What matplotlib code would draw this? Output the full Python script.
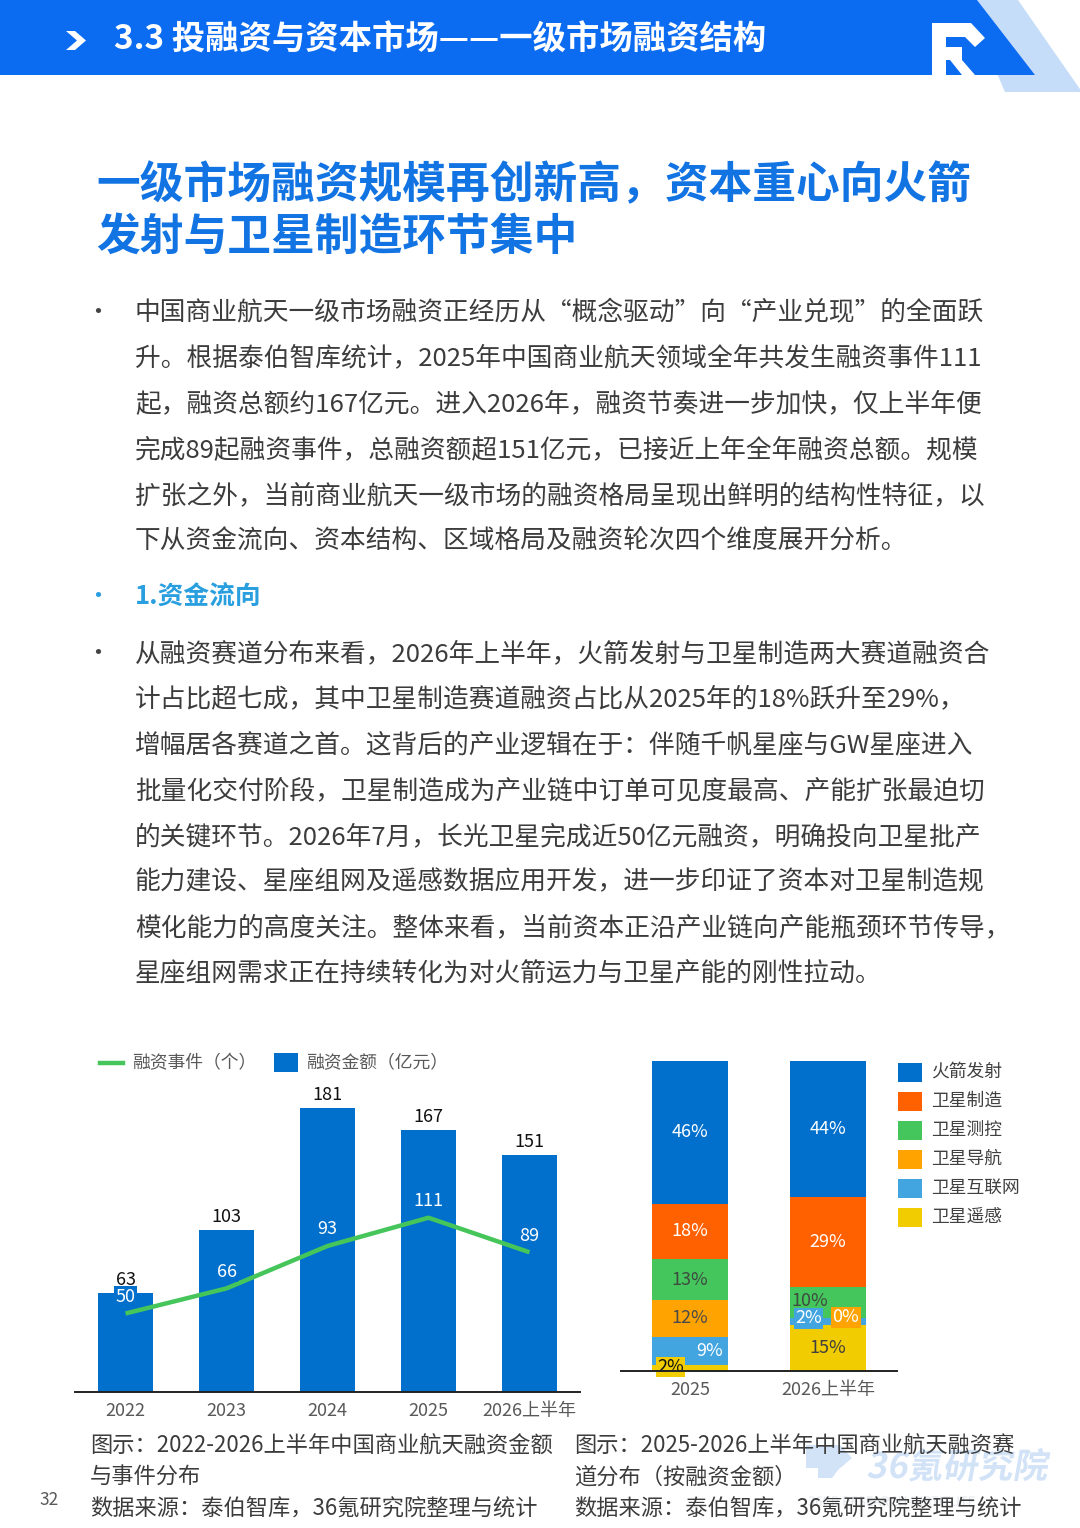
import matplotlib
matplotlib.use("Agg")
import matplotlib.pyplot as plt
from matplotlib.patches import Polygon, Rectangle, PathPatch
from matplotlib.textpath import TextPath
from matplotlib.font_manager import FontProperties
from matplotlib.transforms import Affine2D
import numpy as np

plt.rcParams['font.family'] = ['Noto Sans CJK SC', 'DejaVu Sans']

# ---------------- data ----------------
years = ['2022', '2023', '2024', '2025', '2026上半年']
amounts = [63, 103, 181, 167, 151]          # 融资金额（亿元）
events = [50, 66, 93, 111, 89]              # 融资事件（个）

tracks = ['火箭发射', '卫星制造', '卫星测控', '卫星导航', '卫星互联网', '卫星遥感']
periods = ['2025', '2026上半年']
share_2025 = [46, 18, 13, 12, 9, 2]
share_2026 = [44, 29, 10, 0, 2, 15]

header_title = '3.3 投融资与资本市场——一级市场融资结构'
main_title = ['一级市场融资规模再创新高，资本重心向火箭', '发射与卫星制造环节集中']
para1 = ['中国商业航天一级市场融资正经历从“概念驱动”向“产业兑现”的全面跃',
         '升。根据泰伯智库统计，2025年中国商业航天领域全年共发生融资事件111',
         '起，融资总额约167亿元。进入2026年，融资节奏进一步加快，仅上半年便',
         '完成89起融资事件，总融资额超151亿元，已接近上年全年融资总额。规模',
         '扩张之外，当前商业航天一级市场的融资格局呈现出鲜明的结构性特征，以',
         '下从资金流向、资本结构、区域格局及融资轮次四个维度展开分析。']
sub1 = '1.资金流向'
para2 = ['从融资赛道分布来看，2026年上半年，火箭发射与卫星制造两大赛道融资合',
         '计占比超七成，其中卫星制造赛道融资占比从2025年的18%跃升至29%，',
         '增幅居各赛道之首。这背后的产业逻辑在于：伴随千帆星座与GW星座进入',
         '批量化交付阶段，卫星制造成为产业链中订单可见度最高、产能扩张最迫切',
         '的关键环节。2026年7月，长光卫星完成近50亿元融资，明确投向卫星批产',
         '能力建设、星座组网及遥感数据应用开发，进一步印证了资本对卫星制造规',
         '模化能力的高度关注。整体来看，当前资本正沿产业链向产能瓶颈环节传导，',
         '星座组网需求正在持续转化为对火箭运力与卫星产能的刚性拉动。']
cap_left = ['图示：2022-2026上半年中国商业航天融资金额', '与事件分布', '数据来源：泰伯智库，36氪研究院整理与统计']
cap_right = ['图示：2025-2026上半年中国商业航天融资赛', '道分布（按融资金额）', '数据来源：泰伯智库，36氪研究院整理与统计']
legend_left = ['融资事件（个）', '融资金额（亿元）']
page_no = '32'
wm_main = '36氪研究院'
wm_sub = '36KR RESEARCH INSTITUTE'

# ---------------- styles ----------------
W, H = 1080, 1528
BLUE_HDR = '#0B6CF2'
LIGHT_HDR = '#C6DDFA'
TITLE_BLUE = '#1273E3'
TEXT = '#3C3C3C'
GRAY = '#595959'
BAR_BLUE = '#0070CC'
LINE_GREEN = '#45C55A'
track_colors = ['#0070CC', '#FF6000', '#44C65C', '#FFA300', '#42A5DF', '#F0CC00']
label_colors = ['white', 'white', '#3F4A3F', '#4A4A4A', 'white', '#404040']

fig = plt.figure(figsize=(W / 100, H / 100), dpi=100)
bg = fig.add_axes([0, 0, 1, 1])
bg.set_xlim(0, W)
bg.set_ylim(H, 0)
bg.axis('off')

# ---------------- header ----------------
bg.add_patch(Polygon([(965, 0), (1018, 0), (1082, 92), (1005, 92)], closed=True, fc=LIGHT_HDR, ec='none'))
bg.add_patch(Polygon([(0, 0), (977, 0), (1035, 75), (0, 75)], closed=True, fc=BLUE_HDR, ec='none'))
# R logo
for poly in [
    [(932, 23), (971, 23), (985, 38), (975, 47), (965, 37), (932, 37)],
    [(932, 23), (946, 23), (946, 75), (932, 75)],
    [(932, 47), (962, 47), (962, 60), (932, 60)],
    [(950, 60), (962, 60), (975, 75), (962, 75)],
]:
    bg.add_patch(Polygon(poly, closed=True, fc='white', ec='none'))
# chevron
bg.add_patch(Polygon([(66, 31), (75, 31), (86, 40.5), (75, 50), (66, 50), (77, 40.5)], closed=True, fc='white', ec='none'))
bg.text(114, 40, header_title, color='white', fontsize=24, fontweight='bold', va='center', ha='left')

# ---------------- main title ----------------
for i, ln in enumerate(main_title):
    bg.text(96, 185 + i * 52, ln, color=TITLE_BLUE, fontsize=31.5, fontweight='heavy', va='center', ha='left')

# ---------------- body text ----------------
fs_body = 18.5
def para(lines, y0, step=45.7):
    bg.text(98, y0, '•', color='#444444', fontsize=18, va='center', ha='center')
    for i, ln in enumerate(lines):
        bg.text(135, y0 + i * step, ln, color=TEXT, fontsize=fs_body, va='center', ha='left')

para(para1, 313)
bg.text(98, 597, '•', color='#2A9FDF', fontsize=18, va='center', ha='center')
bg.text(135, 597, sub1, color='#2A9FDF', fontsize=18.5, fontweight='bold', va='center', ha='left')
para(para2, 654)

# ---------------- left chart ----------------
axL = fig.add_axes([75 / W, (H - 1392) / H, 505 / W, 314 / H])
x = np.arange(len(years))
axL.bar(x, amounts, width=0.55, color=BAR_BLUE, zorder=2)
axL.plot(x, events, color=LINE_GREEN, lw=3.2, zorder=3, solid_capstyle='butt')
for xi, a in zip(x, amounts):
    axL.annotate(str(a), (xi, a), xytext=(0, 3), textcoords='offset points', ha='center', va='bottom',
                 fontsize=13, color='#111111')
for xi, e in zip(x, events):
    axL.annotate(str(e), (xi, e), xytext=(0, 12), textcoords='offset points', ha='center', va='center',
                 fontsize=13, color='white', zorder=4,
                 bbox=dict(boxstyle='square,pad=0.08', fc=BAR_BLUE, ec='none'))
axL.set_xlim(-0.5, 4.5)
axL.set_ylim(0, 200)
for s in ['top', 'right', 'left']:
    axL.spines[s].set_visible(False)
axL.spines['bottom'].set_color('#222222')
axL.spines['bottom'].set_linewidth(1.4)
axL.set_yticks([])
axL.set_xticks(x)
axL.set_xticklabels(years, fontsize=13, color=GRAY)
axL.tick_params(axis='x', length=0, pad=7)
axL.patch.set_alpha(0)

# left legend
bg.plot([100, 123], [1063, 1063], color=LINE_GREEN, lw=3.2)
bg.text(132, 1063, legend_left[0], color=GRAY, fontsize=12.8, va='center', ha='left')
bg.add_patch(Rectangle((274, 1053), 24, 19, fc=BAR_BLUE, ec='none'))
bg.text(306, 1063, legend_left[1], color=GRAY, fontsize=12.8, va='center', ha='left')

# ---------------- right chart ----------------
axR = fig.add_axes([621 / W, (H - 1371) / H, 276 / W, 310 / H])
shares = np.array([share_2025, share_2026])  # rows: periods, cols: tracks
xr = np.arange(len(periods))
bottom = np.zeros(len(periods))
order = list(range(len(tracks)))[::-1]   # stack from bottom: 卫星遥感 ... 火箭发射
seg_centers = {}
for k in order:
    vals = shares[:, k]
    axR.bar(xr, vals, width=0.55, bottom=bottom, color=track_colors[k], zorder=2)
    for p in range(len(periods)):
        seg_centers[(p, k)] = bottom[p] + vals[p] / 2
    bottom += vals

# label placement tweaks (offset in x data units, y data units, bbox colour)
special = {
    (0, 4): (0.14, 0.0, None),
    (0, 5): (-0.14, 0.3, track_colors[5]),
    (1, 2): (-0.13, 0.5, None),
    (1, 4): (-0.14, 1.0, track_colors[4]),
    (1, 3): (0.13, 0.4, track_colors[3]),
}
for p in range(len(periods)):
    for k in range(len(tracks)):
        v = shares[p, k]
        dx, dy, box = special.get((p, k), (0.0, 0.0, None))
        col = label_colors[k]
        if (p, k) == (0, 5):
            col = '#111111'
        if (p, k) == (1, 3):
            col = 'white'
        kw = {}
        if box is not None:
            kw['bbox'] = dict(boxstyle='square,pad=0.08', fc=box, ec='none')
        axR.text(xr[p] + dx, seg_centers[(p, k)] + dy, f'{v}%', ha='center', va='center',
                 fontsize=13, color=col, zorder=5, **kw)
axR.set_xlim(-0.5, 1.5)
axR.set_ylim(0, 100)
for s in ['top', 'right', 'left']:
    axR.spines[s].set_visible(False)
axR.spines['bottom'].set_color('#222222')
axR.spines['bottom'].set_linewidth(1.4)
axR.spines['bottom'].set_zorder(6)
axR.set_yticks([])
axR.set_xticks(xr)
axR.set_xticklabels(periods, fontsize=13, color=GRAY)
axR.tick_params(axis='x', length=0, pad=7)
axR.patch.set_alpha(0)

# right legend
for i, (name, c) in enumerate(zip(tracks, track_colors)):
    yc = 1072 + i * 29
    bg.add_patch(Rectangle((898, yc - 9.5), 24, 19, fc=c, ec='none'))
    bg.text(931, yc, name, color='#404040', fontsize=12.8, va='center', ha='left')

# ---------------- watermark logo (graphic lockup, faint) ----------------
def logo_path(s, x0, ybase, size, weight='bold', col='#D3E3F7', slant=0.0):
    fp = FontProperties(family=['Noto Sans CJK SC', 'DejaVu Sans'], weight=weight)
    tp = TextPath((0, 0), s, size=size, prop=fp)
    tr = Affine2D().skew(np.arctan(slant), 0).scale(1, -1).translate(x0, ybase)
    bg.add_patch(PathPatch(tr.transform_path(tp), fc=col, ec='none', zorder=0.5))

logo_path(wm_main, 866, 1478, 35, slant=0.18)
logo_path(wm_sub, 808, 1506, 13, weight='normal', col='#E4E8EE')
bg.add_patch(Polygon([(806, 1445), (840, 1445), (852, 1458), (838, 1470), (832, 1478), (818, 1478),
                      (818, 1468), (806, 1468)], closed=True, fc='#D3E3F7', ec='none', zorder=0.5))

# ---------------- captions ----------------
fs_cap = 16
for i, ln in enumerate(cap_left):
    bg.text(90, 1446 + i * 31.5, ln, color=TEXT, fontsize=fs_cap, va='center', ha='left', zorder=3)
for i, ln in enumerate(cap_right):
    bg.text(574, 1446 + i * 31.5, ln, color=TEXT, fontsize=fs_cap, va='center', ha='left', zorder=3)
bg.text(49, 1500, page_no, color=GRAY, fontsize=12.5, va='center', ha='center')

fig.savefig('out.png', dpi=100)
